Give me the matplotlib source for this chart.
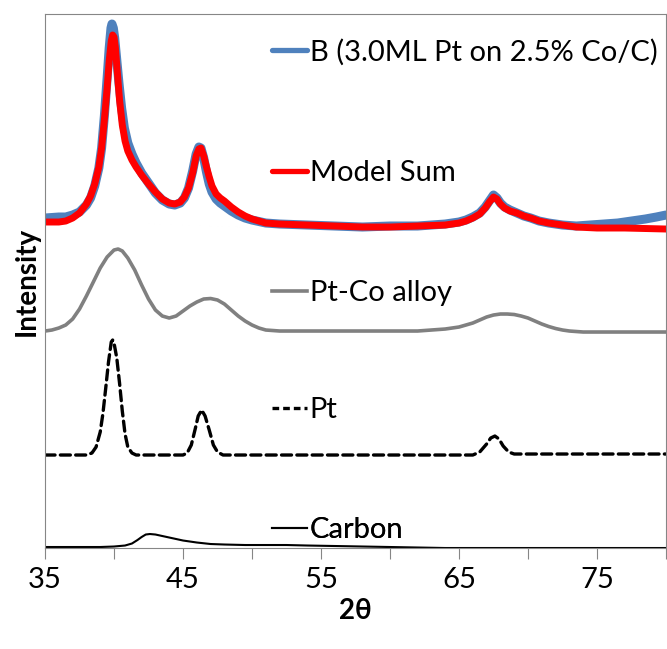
import matplotlib
matplotlib.use('Agg')
import matplotlib.pyplot as plt
from matplotlib.lines import Line2D

plt.rcParams['font.family'] = ['Lato', 'DejaVu Sans']

# 2-theta positions (deg) and intensities (arbitrary units, stacked offsets included)
model_x = [35.0, 36.0, 36.5, 37.0, 37.5, 38.0, 38.3, 38.6, 38.9, 39.1, 39.3, 39.5,
           39.65, 39.8, 39.9, 40.0, 40.1, 40.25, 40.4, 40.6, 40.8, 41.0, 41.3, 41.6,
           42.0, 42.5, 43.0, 43.5, 44.0, 44.4, 44.8, 45.1, 45.4, 45.7, 45.95, 46.15,
           46.3, 46.5, 46.7, 46.9, 47.1, 47.4, 47.7, 48.0, 48.5, 49.0, 49.5, 50.0,
           50.5, 51.0, 52.0, 54.0, 56.0, 58.0, 60.0, 62.0, 64.0, 65.0, 65.5, 66.0,
           66.5, 66.9, 67.2, 67.5, 67.75, 68.0, 68.3, 68.7, 69.2, 69.7, 70.2, 70.8,
           71.5, 72.5, 73.5, 75.0, 77.0, 80.0]
model_y = [326, 326, 327, 330, 335, 344, 352, 364, 381, 400, 428, 460,
           487, 507, 513, 511, 500, 474, 448, 423, 407, 397, 388, 381,
           373, 364, 356, 349, 345, 344, 346, 351, 360, 375, 392, 399,
           400, 392, 381, 371, 362, 354, 350, 347, 341, 336, 332, 329,
           327, 325, 324, 323, 322, 321, 321, 322, 323, 325, 327, 330,
           334, 340, 346, 351, 349, 344, 340, 337, 335, 332, 330, 327,
           325, 323, 321, 320, 320, 319]

sample_x = [35.0, 36.0, 36.5, 37.0, 37.5, 38.0, 38.3, 38.6, 38.9, 39.1, 39.3, 39.5,
            39.65, 39.78, 39.85, 39.95, 40.05, 40.2, 40.35, 40.55, 40.75, 41.0, 41.3, 41.6,
            42.0, 42.5, 43.0, 43.5, 44.0, 44.4, 44.8, 45.1, 45.4, 45.7, 45.95, 46.15,
            46.3, 46.5, 46.7, 46.9, 47.1, 47.4, 47.7, 48.0, 48.5, 49.0, 49.5, 50.0,
            51.0, 52.0, 54.0, 56.0, 58.0, 60.0, 62.0, 64.0, 65.0, 65.5, 66.0, 66.5,
            66.9, 67.2, 67.5, 67.75, 68.0, 68.3, 68.7, 69.2, 69.7, 70.2, 70.8, 71.5,
            72.5, 73.5, 74.5, 75.5, 76.5, 77.5, 78.5, 79.3, 80.0]
sample_y = [330, 331, 331, 333, 336, 343, 350, 362, 380, 400, 432, 470,
            500, 520, 524, 520, 510, 488, 466, 440, 420, 405, 394, 385,
            375, 365, 355, 348, 344, 343, 345, 350, 360, 377, 394, 401,
            400, 390, 376, 364, 356, 349, 345, 342, 337, 333, 330, 328,
            325, 324, 323, 322, 321, 322, 322, 324, 326, 328, 331, 335,
            341, 347, 353, 350, 345, 341, 338, 335, 332, 330, 327, 325,
            323, 322, 323, 324, 325, 327, 329, 331, 333]

alloy_x = [35.0, 35.5, 36.0, 36.5, 37.0, 37.5, 38.0, 38.5, 39.0, 39.5, 40.0, 40.3,
           40.6, 41.0, 41.5, 42.0, 42.5, 43.0, 43.5, 44.0, 44.5, 45.0, 45.5, 46.0,
           46.5, 47.0, 47.5, 48.0, 48.5, 49.0, 49.5, 50.0, 50.5, 51.0, 52.0, 62.0,
           63.0, 64.0, 65.0, 65.5, 66.0, 66.5, 67.0, 67.5, 68.0, 68.5, 69.0, 69.5,
           70.0, 70.5, 71.0, 71.5, 72.0, 72.5, 73.0, 74.0, 80.0]
alloy_y = [217, 218, 220, 223, 229, 239, 252, 266, 280, 291, 298, 299,
           297, 290, 278, 263, 249, 238, 232, 230, 232, 237, 242, 246,
           249, 249.5, 248, 244, 238, 232, 227, 223, 220, 218, 217, 217,
           218, 219, 221, 223, 225, 228, 231, 233, 234, 234, 233.5, 232,
           230, 227, 224, 221.5, 219.5, 218, 217, 216, 216]

pt_x = [35.0, 38.0, 38.4, 38.7, 39.0, 39.2, 39.4, 39.6, 39.8, 39.9, 40.0, 40.2,
        40.4, 40.6, 40.8, 41.0, 41.3, 41.6, 45.0, 45.3, 45.6, 45.9, 46.1, 46.35,
        46.6, 46.9, 47.2, 47.5, 47.9, 66.0, 66.5, 67.0, 67.3, 67.6, 67.9, 68.2,
        68.6, 69.0, 80.0]
pt_y = [93, 93, 95, 101, 116, 135, 160, 186, 206, 208, 205, 190,
        165, 137, 114, 101, 95, 93, 93, 95, 103, 120, 132, 138,
        132, 118, 103, 96, 93, 93, 96, 104, 110, 112, 109, 102,
        96, 94, 94]

carbon_x = [35.0, 39.0, 40.0, 40.8, 41.3, 41.7, 42.0, 42.3, 42.6, 43.0, 43.5, 44.0,
            44.5, 45.0, 45.5, 46.0, 47.0, 48.0, 49.5, 51.0, 52.5, 54.0, 56.0, 58.0,
            60.0, 64.0, 80.0]
carbon_y = [1, 1, 1.5, 2.5, 4.5, 8, 11, 13.5, 14, 13.5, 12, 10.5,
            9, 7.5, 6.5, 5.5, 4, 3.5, 3, 3, 3, 2.5, 2, 1.5,
            1, 0, 0]

labels = ['B (3.0ML Pt on 2.5% Co/C)', 'Model Sum', 'Pt-Co alloy', 'Pt', 'Carbon']
label_y = [0.929, 0.702, 0.4775, 0.258, 0.0337]

fig = plt.figure(figsize=(6.67, 6.49), dpi=100)
ax = fig.add_axes([0.0675, 0.1556, 0.9310, 0.8228])

ax.plot(sample_x, sample_y, color='#4F81BD', linewidth=6.5, solid_capstyle='round',
        solid_joinstyle='round')
ax.plot(model_x, model_y, color='#FF0000', linewidth=5, solid_capstyle='round',
        solid_joinstyle='round')
ax.plot(alloy_x, alloy_y, color='#808080', linewidth=2.6, solid_joinstyle='round')
ax.plot(pt_x, pt_y, color='black', linewidth=2.4, dashes=(3.0, 1.6),
        dash_capstyle='round')
ax.plot(carbon_x, carbon_y, color='black', linewidth=1.5)

handles = [
    Line2D([], [], color='#4F81BD', linewidth=3.8, solid_capstyle='round'),
    Line2D([], [], color='#FF0000', linewidth=3.8, solid_capstyle='round'),
    Line2D([], [], color='#808080', linewidth=2.6),
    Line2D([], [], color='black', linewidth=2.4, dashes=(2.0, 1.2)),
    Line2D([], [], color='black', linewidth=1.5),
]
for h, lab, ly in zip(handles, labels, label_y):
    leg = ax.legend(handles=[h], labels=[lab], loc='center left',
                    bbox_to_anchor=(0.365, ly), frameon=False, fontsize=21,
                    borderpad=0, borderaxespad=0, handlelength=1.2,
                    handletextpad=0.1)
    ax.add_artist(leg)

ax.set_xlim(35, 80)
ax.set_ylim(0, 534)
ax.set_xticks([35, 45, 55, 65, 75])
ax.set_xticks([40, 50, 60, 70, 80], minor=True)
ax.set_yticks([])
ax.tick_params(axis='x', which='both', direction='out', length=8, width=0.8,
               color='#868686', labelsize=21, pad=6)
for s in ax.spines.values():
    s.set_color('#868686')
    s.set_linewidth(0.8)

ax.set_xlabel('2θ', fontsize=20, fontweight='bold', labelpad=3)
ax.set_ylabel('Intensity', fontsize=20, fontweight='bold', labelpad=4)

plt.savefig('out.png', dpi=100)
